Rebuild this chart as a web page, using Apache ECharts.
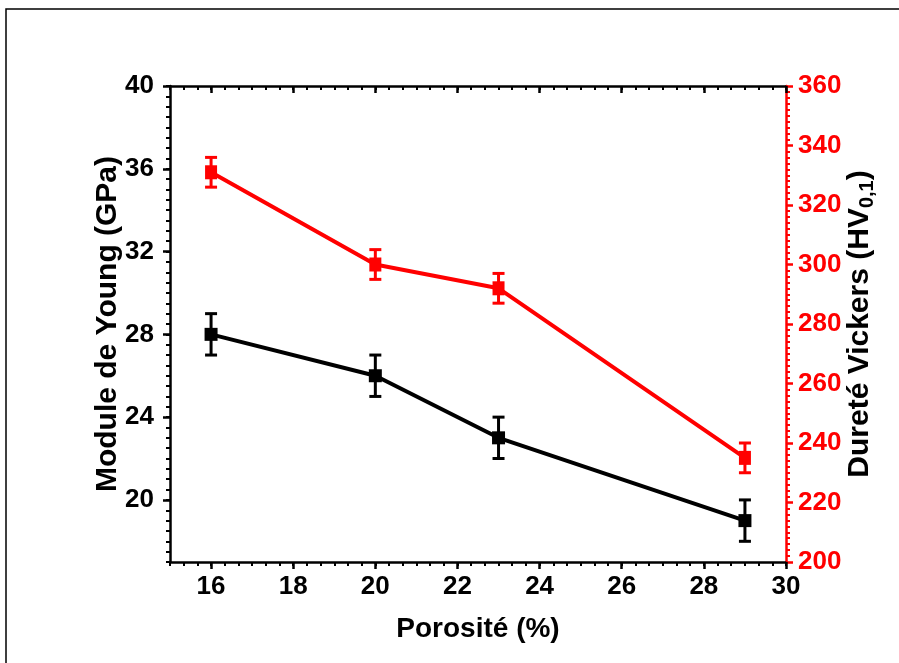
<!DOCTYPE html>
<html lang="fr">
<head>
    <meta charset="UTF-8">
    <title>Module de Young et dureté Vickers</title>
    <script src="https://cdn.jsdelivr.net/npm/echarts@6/dist/echarts.min.js"></script>
    <style>
        html, body { margin: 0; padding: 0; background: #fff; }
        #chart1 { width: 899px; height: 663px; }
    </style>
</head>
<body>
<div id="chart1"></div>
<script type="text/javascript">
    // données
    var porosite = [16, 20, 23, 29];
    var young = [28, 26, 23, 19];
    var youngErr = [1, 1, 1, 1];
    var vickers = [331, 300, 292, 235];
    var vickersErr = [5, 5, 5, 5];

    // graduations
    var xTicks = [16, 18, 20, 22, 24, 26, 28, 30];
    var youngTicks = [20, 24, 28, 32, 36, 40];

    var FONT = "'Liberation Sans', Arial, sans-serif";
    var RED = '#ff0000';

    var chart1 = echarts.init(document.getElementById('chart1'));

    function errBar(color) {
        return function (params, api) {
            var x = api.value(0);
            var top = api.coord([x, api.value(2)]);
            var bot = api.coord([x, api.value(1)]);
            var w = 6;
            var st = { stroke: color, lineWidth: 3 };
            return {
                type: 'group',
                children: [
                    { type: 'line', shape: { x1: top[0], y1: top[1], x2: bot[0], y2: bot[1] }, style: st },
                    { type: 'line', shape: { x1: top[0] - w, y1: top[1], x2: top[0] + w, y2: top[1] }, style: st },
                    { type: 'line', shape: { x1: bot[0] - w, y1: bot[1], x2: bot[0] + w, y2: bot[1] }, style: st }
                ]
            };
        };
    }

    function pairs(xs, ys) {
        return xs.map(function (x, i) { return [x, ys[i]]; });
    }

    function bars(xs, ys, es) {
        return xs.map(function (x, i) { return [x, ys[i] - es[i], ys[i] + es[i]]; });
    }

    var minorX = {
        min: 15, max: 30, interval: 1,
        axisLine: { show: false },
        axisLabel: { show: false },
        splitLine: { show: false },
        axisTick: { length: 4, lineStyle: { color: '#000', width: 2 } },
        minorTick: { show: true, splitNumber: 3, length: 4, lineStyle: { color: '#000', width: 2 } }
    };

    chart1.setOption({
        animation: false,
        grid: { left: 170, right: 113, top: 86, bottom: 101 },
        graphic: [{
            type: 'rect',
            shape: { x: 6, y: 9, width: 1200, height: 1200 },
            style: { fill: 'none', stroke: '#000', lineWidth: 1.5 },
            silent: true
        }],
        xAxis: [{
            type: 'value', position: 'bottom', min: 15, max: 30,
            name: 'Porosité (%)', nameLocation: 'middle', nameGap: 53,
            nameTextStyle: { fontFamily: FONT, fontWeight: 'bold', fontSize: 28, color: '#000' },
            axisLine: { lineStyle: { color: '#000', width: 2.5 } },
            axisTick: { customValues: xTicks, length: 7, lineStyle: { color: '#000', width: 2.5 } },
            axisLabel: { customValues: xTicks, margin: 12, fontFamily: FONT, fontWeight: 'bold', fontSize: 26, color: '#000' },
            splitLine: { show: false }
        }, echarts.util.extend({ position: 'bottom', type: 'value' }, minorX), {
            type: 'value', position: 'top', min: 15, max: 30,
            axisLine: { lineStyle: { color: '#000', width: 2.5 } },
            axisTick: { customValues: xTicks, inside: true, length: 7, lineStyle: { color: '#000', width: 2.5 } },
            axisLabel: { show: false },
            splitLine: { show: false }
        }, echarts.util.extend({ position: 'top', type: 'value' },
            echarts.util.extend(echarts.util.clone(minorX), { axisTick: { inside: true, length: 4, lineStyle: { color: '#000', width: 2 } } }))
        ],
        yAxis: [{
            type: 'value', position: 'left', min: 17, max: 40,
            name: 'Module de Young (GPa)', nameLocation: 'middle', nameGap: 47, nameRotate: 90,
            nameMoveOverlap: false,
            nameTextStyle: { fontFamily: FONT, fontWeight: 'bold', fontSize: 30, color: '#000' },
            axisLine: { show: true, lineStyle: { color: '#000', width: 2.5 } },
            axisTick: { show: true, customValues: youngTicks, length: 7, lineStyle: { color: '#000', width: 2.5 } },
            axisLabel: { customValues: youngTicks, margin: 16, fontFamily: FONT, fontWeight: 'bold', fontSize: 26, color: '#000' },
            splitLine: { show: false }
        }, {
            type: 'value', position: 'left', min: 17, max: 40, interval: 1,
            axisLine: { show: false },
            axisLabel: { show: false },
            splitLine: { show: false },
            axisTick: { show: true, length: 4, lineStyle: { color: '#000', width: 2 } },
            minorTick: { show: true, splitNumber: 2, length: 4, lineStyle: { color: '#000', width: 2 } }
        }, {
            type: 'value', position: 'right', min: 200, max: 360, interval: 20,
            name: '{n|Dureté Vickers (HV}{s|0,1}{n|)}', nameLocation: 'middle', nameGap: 57, nameRotate: 90,
            nameMoveOverlap: false,
            nameTextStyle: {
                rich: {
                    n: { fontFamily: FONT, fontWeight: 'bold', fontSize: 30, color: '#000' },
                    s: { fontFamily: FONT, fontWeight: 'bold', fontSize: 20, color: '#000', padding: [14, 0, 0, 0] }
                }
            },
            axisLine: { show: true, lineStyle: { color: RED, width: 2.5 } },
            axisTick: { show: true, length: 7, lineStyle: { color: RED, width: 2.5 } },
            minorTick: { show: true, splitNumber: 10, length: 4, lineStyle: { color: RED, width: 2 } },
            axisLabel: { margin: 12, fontFamily: FONT, fontWeight: 'bold', fontSize: 26, color: RED },
            splitLine: { show: false }
        }],
        series: [{
            name: 'Module de Young',
            type: 'line', xAxisIndex: 0, yAxisIndex: 0,
            data: pairs(porosite, young),
            symbol: 'rect', symbolSize: 13,
            lineStyle: { color: '#000', width: 4 },
            itemStyle: { color: '#000' }
        }, {
            type: 'custom', xAxisIndex: 0, yAxisIndex: 0,
            renderItem: errBar('#000'),
            data: bars(porosite, young, youngErr),
            z: 3
        }, {
            name: 'Dureté Vickers',
            type: 'line', xAxisIndex: 0, yAxisIndex: 2,
            data: pairs(porosite, vickers),
            symbol: 'rect', symbolSize: [12, 14],
            lineStyle: { color: RED, width: 4 },
            itemStyle: { color: RED }
        }, {
            type: 'custom', xAxisIndex: 0, yAxisIndex: 2,
            renderItem: errBar(RED),
            data: bars(porosite, vickers, vickersErr),
            z: 3
        }]
    });
</script>
</body>
</html>
